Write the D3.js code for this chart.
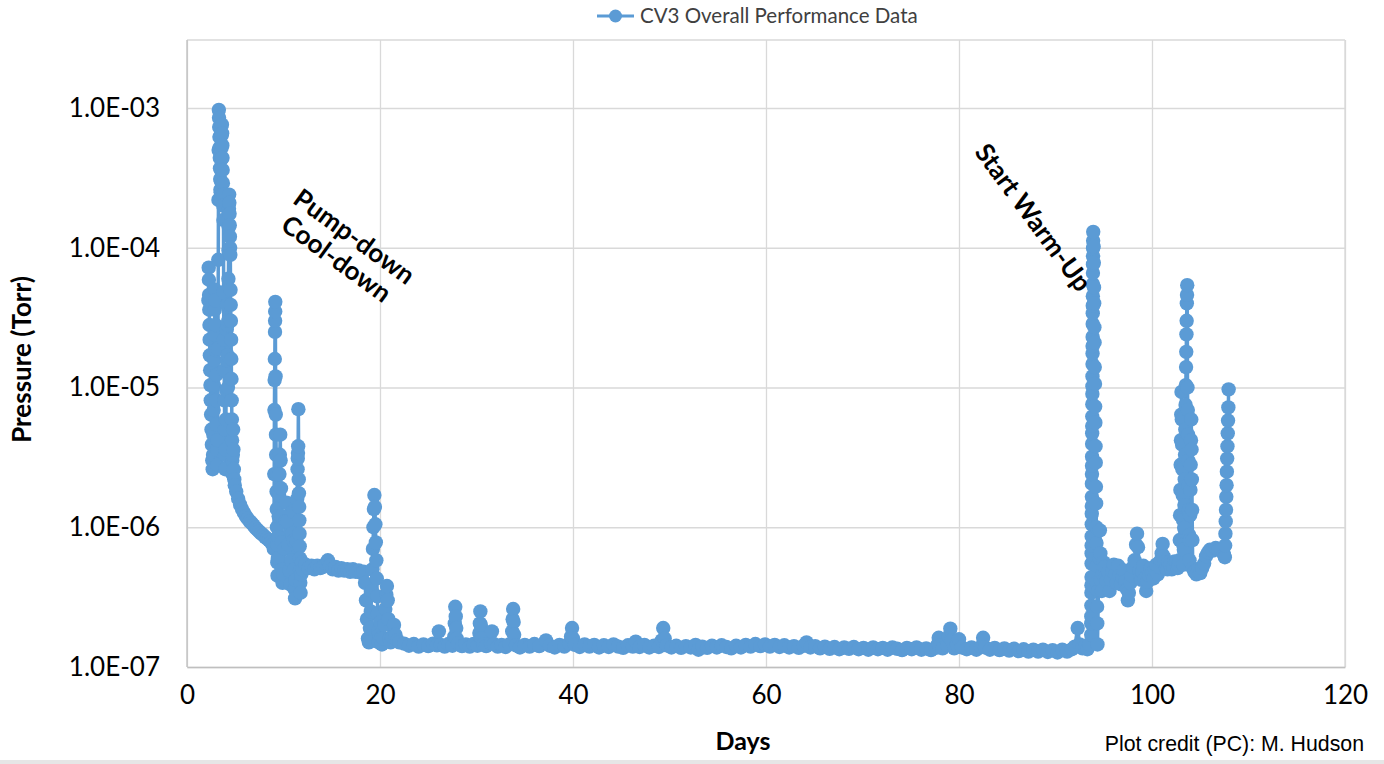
<!DOCTYPE html>
<html>
<head>
<meta charset="utf-8">
<script src="https://cdn.jsdelivr.net/npm/d3@7"></script>
<style>
  body { margin: 0; background: #fff; }
  svg { display: block; font-family: Lato, "Open Sans", sans-serif; }
</style>
</head>
<body>
<svg id="chart" width="1384" height="764"></svg>
<script>
// [day, pressure in Torr]
const pumpDown = [
  [2.22,4.2e-5],[2.25,7.2e-5],[2.27,5.9e-5],[2.29,4.6e-5],[2.31,3.6e-5],[2.33,2.8e-5],[2.35,2.2e-5],
  [2.37,1.7e-5],[2.40,1.33e-5],[2.43,1.04e-5],[2.46,8.1e-6],[2.50,6.4e-6],[2.54,5.0e-6],[2.58,3.9e-6],
  [2.62,3.0e-6],[2.66,2.6e-6],[2.70,3.3e-6],[2.73,4.6e-6],[2.76,6.9e-6],[2.79,1.04e-5],[2.82,1.57e-5],
  [2.85,2.4e-5],[2.88,3.6e-5],[2.91,5.0e-5],[2.94,4.2e-5],[2.97,2.8e-5],[3.00,1.85e-5],[3.03,1.23e-5],
  [3.06,8.1e-6],[3.09,5.4e-6],[3.12,3.6e-6],[3.15,2.8e-6],[3.18,4.2e-6],[3.21,1.9e-5],[3.24,8.2e-5],
  [3.26,2.2e-4],[3.28,5.0e-4],[3.30,9.7e-4],[3.32,8.5e-4],[3.34,7.3e-4],[3.36,6.2e-4],[3.38,5.2e-4],
  [3.40,4.4e-4],[3.42,3.7e-4],[3.44,3.1e-4],[3.46,2.6e-4],[3.48,2.2e-4],[3.50,2.5e-4],[3.52,3.0e-4],
  [3.54,3.6e-4],[3.56,4.3e-4],[3.58,5.2e-4],[3.60,6.4e-4],[3.62,7.6e-4],[3.64,6.6e-4],[3.66,5.4e-4],
  [3.68,4.4e-4],[3.70,3.6e-4],[3.72,2.9e-4],[3.74,2.4e-4],[3.76,2.0e-4],[3.78,1.58e-4],[3.80,4.8e-5],
  [3.82,2.2e-5],[3.85,1.33e-5],[3.88,8.1e-6],[3.91,5.0e-6],[3.94,3.3e-6],[3.97,2.6e-6],[4.00,3.6e-6],
  [4.03,5.9e-6],[4.06,9.6e-6],[4.09,1.57e-5],[4.12,2.6e-5],[4.15,3.9e-5],[4.18,2.8e-5],[4.21,1.7e-5],
  [4.24,1.0e-5],[4.27,3.0e-5],[4.29,6.0e-5],[4.31,9.6e-5],[4.33,1.4e-4],[4.35,1.9e-4],[4.37,2.4e-4],
  [4.39,2.1e-4],[4.41,1.75e-4],[4.43,1.45e-4],[4.45,1.2e-4],[4.47,1.0e-4],[4.49,8.9e-5],[4.51,5.0e-5],
  [4.53,3.9e-5],[4.55,3.0e-5],[4.57,2.2e-5],[4.59,1.6e-5],[4.61,1.15e-5],[4.63,8.1e-6],[4.65,5.9e-6],
  [4.67,4.2e-6],[4.69,3.0e-6],[4.72,2.4e-6],[4.75,3.3e-6],[4.78,5.0e-6],[4.81,3.6e-6],[4.85,2.6e-6],
  [4.90,2.2e-6],[4.95,2.0e-6],[5.1,1.8e-6],[5.3,1.6e-6],[5.5,1.45e-6],[5.7,1.35e-6],[5.9,1.27e-6],
  [6.1,1.2e-6],[6.3,1.15e-6],[6.5,1.1e-6],[6.7,1.07e-6],[6.9,1.03e-6],[7.1,9.9e-7],[7.3,9.6e-7],
  [7.5,9.3e-7],[7.7,9.0e-7],[7.9,8.8e-7],[8.1,8.5e-7],[8.3,8.3e-7],[8.5,8.1e-7],[8.7,7.8e-7],[8.9,7.5e-7]
];

const coolDown = [
  [9.0,7.0e-7],[9.04,2.4e-6],[9.06,6.9e-6],[9.08,1.13e-5],[9.10,1.6e-5],[9.12,2.5e-5],[9.13,3.0e-5],
  [9.14,3.5e-5],[9.15,4.1e-5],[9.18,1.2e-5],[9.20,6.4e-6],[9.22,4.6e-6],[9.24,3.3e-6],[9.26,2.4e-6],
  [9.28,1.8e-6],[9.30,1.35e-6],[9.32,1.0e-6],[9.34,7.5e-7],[9.36,5.6e-7],[9.38,4.5e-7],[9.42,6.0e-7],
  [9.46,8.5e-7],[9.50,1.2e-6],[9.54,1.7e-6],[9.58,2.4e-6],[9.62,3.3e-6],[9.66,4.6e-6],[9.70,3.0e-6],
  [9.74,1.9e-6],[9.78,1.2e-6],[9.82,7.8e-7],[9.86,5.0e-7],[9.90,4.0e-7],[10.0,4.6e-7],[10.1,7.0e-7],
  [10.2,1.1e-6],[10.3,1.5e-6],[10.4,1.1e-6],[10.5,7.5e-7],[10.6,4.9e-7],[10.7,3.9e-7],[10.8,5.8e-7],
  [10.9,9.0e-7],[11.0,1.3e-6],[11.05,8.0e-7],[11.1,5.0e-7],[11.15,3.6e-7],[11.2,3.1e-7],[11.25,4.2e-7],
  [11.35,8.0e-7],[11.42,1.6e-6],[11.46,2.6e-6],[11.48,3.1e-6],[11.50,3.4e-6],[11.52,3.8e-6],[11.54,7.0e-6],
  [11.58,2.2e-6],[11.60,1.75e-6],[11.62,1.4e-6],[11.64,1.12e-6],[11.66,9.0e-7],[11.68,7.3e-7],[11.70,6.0e-7],
  [11.72,4.9e-7],[11.74,4.0e-7],[11.77,3.4e-7],[11.84,4.6e-7],[11.92,5.6e-7],
  [12.0,5.0e-7],[12.3,5.4e-7],[12.6,5.1e-7],[12.9,5.3e-7],[13.2,5.0e-7],[13.5,5.3e-7],[13.8,5.1e-7],
  [14.1,5.2e-7],[14.4,5.5e-7],[14.6,5.8e-7],[14.8,5.3e-7],[15.1,5.0e-7],[15.4,5.2e-7],[15.7,4.9e-7],
  [16.0,5.1e-7],[16.3,4.9e-7],[16.6,5.0e-7],[16.9,4.8e-7],[17.2,5.0e-7],[17.5,4.8e-7],[17.8,4.9e-7],
  [18.1,4.7e-7],[18.3,4.8e-7],
  [18.45,4.0e-7],[18.55,3.0e-7],[18.65,2.2e-7],[18.75,1.6e-7],[18.85,1.5e-7],[18.95,1.9e-7],[19.05,2.5e-7],
  [19.15,3.5e-7],[19.22,5.0e-7],[19.27,7.0e-7],[19.32,1.0e-6],[19.37,1.35e-6],[19.42,1.7e-6],[19.47,1.4e-6],
  [19.52,1.05e-6],[19.57,7.8e-7],[19.62,5.8e-7],[19.67,4.3e-7],[19.72,3.2e-7],[19.77,2.4e-7],[19.82,1.8e-7],
  [19.88,1.5e-7],[19.95,1.7e-7],[20.02,2.1e-7],[20.1,1.6e-7],[20.2,1.45e-7],[20.35,1.6e-7],[20.45,2.0e-7],
  [20.55,2.6e-7],[20.65,3.3e-7],[20.72,3.8e-7],[20.8,3.0e-7],[20.88,2.2e-7],[20.96,1.6e-7],[21.1,1.5e-7],
  [21.3,1.65e-7],[21.45,2.0e-7],[21.6,1.7e-7],[21.8,1.55e-7],[22.0,1.5e-7]
];

const cryoStable = [
  [22.5,1.47e-7],[23.0,1.42e-7],[23.5,1.46e-7],[24.0,1.40e-7],[24.5,1.45e-7],[25.0,1.41e-7],[25.5,1.47e-7],
  [25.9,1.43e-7],[26.1,1.80e-7],[26.3,1.44e-7],[26.7,1.40e-7],[27.1,1.46e-7],[27.5,1.42e-7],[27.7,1.65e-7],
  [27.75,2.05e-7],[27.8,2.7e-7],[27.85,2.3e-7],[27.9,1.9e-7],[27.95,1.6e-7],[28.1,1.47e-7],[28.5,1.41e-7],
  [28.9,1.45e-7],[29.3,1.40e-7],[29.7,1.46e-7],[30.1,1.42e-7],[30.3,1.75e-7],[30.35,2.05e-7],[30.4,2.5e-7],
  [30.45,2.0e-7],[30.5,1.6e-7],[30.7,1.45e-7],[31.0,1.41e-7],[31.5,1.48e-7],[31.6,1.8e-7],[31.8,1.46e-7],
  [32.2,1.40e-7],[32.6,1.44e-7],[33.0,1.39e-7],[33.4,1.45e-7],[33.7,1.8e-7],[33.75,2.2e-7],[33.8,2.6e-7],
  [33.85,2.1e-7],[33.9,1.7e-7],[34.1,1.43e-7],[34.5,1.38e-7],[35.0,1.44e-7],[35.5,1.40e-7],[36.0,1.46e-7],
  [36.5,1.41e-7],[37.2,1.55e-7],[37.6,1.42e-7],[38.1,1.38e-7],[38.6,1.44e-7],[39.1,1.40e-7],[39.6,1.47e-7],
  [39.8,1.65e-7],[39.9,1.9e-7],[40.0,1.6e-7],[40.2,1.44e-7],[40.7,1.39e-7],[41.2,1.45e-7],[41.7,1.40e-7],
  [42.2,1.44e-7],[42.7,1.38e-7],[43.2,1.43e-7],[43.7,1.39e-7],[44.2,1.45e-7],[44.7,1.40e-7],[45.2,1.37e-7],
  [45.7,1.43e-7],[46.2,1.40e-7],[46.5,1.52e-7],[46.9,1.39e-7],[47.4,1.44e-7],[47.9,1.38e-7],[48.4,1.42e-7],
  [48.9,1.39e-7],[49.2,1.55e-7],[49.35,1.9e-7],[49.5,1.6e-7],[49.7,1.43e-7],[50.2,1.38e-7],[50.7,1.42e-7],
  [51.2,1.37e-7],[51.7,1.41e-7],[52.2,1.38e-7],[52.7,1.44e-7],[53.0,1.33e-7],[53.4,1.40e-7],[53.9,1.37e-7],
  [54.4,1.42e-7],[54.9,1.38e-7],[55.4,1.43e-7],[55.9,1.39e-7],[56.4,1.36e-7],[56.9,1.42e-7],[57.4,1.38e-7],
  [57.9,1.44e-7],[58.4,1.40e-7],[58.9,1.46e-7],[59.4,1.41e-7],[59.9,1.45e-7],[60.4,1.40e-7],[60.9,1.44e-7],
  [61.4,1.39e-7],[61.9,1.43e-7],[62.4,1.38e-7],[62.9,1.41e-7],[63.4,1.37e-7],[63.9,1.42e-7],[64.2,1.50e-7],
  [64.6,1.38e-7],[65.1,1.41e-7],[65.6,1.36e-7],[66.1,1.40e-7],[66.6,1.35e-7],[67.1,1.39e-7],[67.6,1.34e-7],
  [68.1,1.38e-7],[68.6,1.35e-7],[69.1,1.39e-7],[69.6,1.34e-7],[70.1,1.37e-7],[70.6,1.33e-7],[71.1,1.38e-7],
  [71.6,1.34e-7],[72.1,1.37e-7],[72.6,1.33e-7],[73.1,1.38e-7],[73.6,1.35e-7],[74.1,1.32e-7],[74.6,1.37e-7],
  [75.1,1.34e-7],[75.6,1.38e-7],[76.1,1.33e-7],[76.6,1.36e-7],[77.1,1.32e-7],[77.6,1.37e-7],[77.8,1.45e-7],
  [77.9,1.62e-7],[78.0,1.42e-7],[78.3,1.36e-7],[78.8,1.44e-7],[78.95,1.65e-7],[79.1,1.88e-7],[79.25,1.55e-7],
  [79.5,1.36e-7],[79.8,1.45e-7],[80.0,1.58e-7],[80.3,1.38e-7],[80.8,1.34e-7],[81.3,1.38e-7],[81.8,1.33e-7],
  [82.3,1.40e-7],[82.5,1.62e-7],[82.7,1.38e-7],[83.2,1.33e-7],[83.7,1.37e-7],[84.2,1.32e-7],[84.7,1.36e-7],
  [85.2,1.31e-7],[85.7,1.35e-7],[86.2,1.30e-7],[86.7,1.34e-7],[87.2,1.29e-7],[87.7,1.33e-7],[88.2,1.29e-7],
  [88.7,1.33e-7],[89.2,1.28e-7],[89.7,1.32e-7],[90.2,1.27e-7],[90.7,1.33e-7],[91.2,1.29e-7],[91.7,1.34e-7],
  [92.0,1.40e-7],[92.3,1.90e-7],[92.5,1.45e-7],[92.8,1.36e-7],[93.1,1.42e-7],[93.3,1.34e-7],[93.5,1.45e-7]
];

const warmUp = [
  [93.700,1.7e-7],[93.705,2.05e-7],[93.710,2.3e-7],[93.715,2.75e-7],[93.720,3.4e-7],[93.725,3.85e-7],
  [93.730,4.4e-7],[93.735,5.5e-7],[93.740,6.5e-7],[93.745,7.4e-7],[93.750,8.6e-7],[93.755,1.05e-6],
  [93.760,1.25e-6],[93.765,1.42e-6],[93.770,1.65e-6],[93.775,2.05e-6],[93.780,2.4e-6],[93.785,2.75e-6],
  [93.790,3.2e-6],[93.795,3.95e-6],[93.800,4.7e-6],[93.805,5.3e-6],[93.810,6.2e-6],[93.815,7.6e-6],
  [93.820,9.0e-6],[93.825,1.02e-5],[93.830,1.2e-5],[93.835,1.47e-5],[93.840,1.75e-5],[93.845,1.98e-5],
  [93.850,2.3e-5],[93.855,2.85e-5],[93.860,3.4e-5],[93.865,3.85e-5],[93.870,4.5e-5],[93.875,5.5e-5],
  [93.880,6.6e-5],[93.885,7.6e-5],[93.890,8.7e-5],[93.895,9.9e-5],[93.900,1.12e-4],[93.910,1.3e-4],
  [93.95,1.02e-4],[93.97,7.8e-5],[93.99,5.2e-5],[94.01,4.0e-5],[94.03,2.7e-5],[94.05,2.1e-5],
  [94.07,1.4e-5],[94.09,1.06e-5],[94.11,7.3e-6],[94.13,5.6e-6],[94.15,3.8e-6],[94.17,2.9e-6],[94.19,1.95e-6],
  [94.21,1.48e-6],[94.23,1.0e-6],[94.25,7.7e-7],[94.27,5.3e-7],[94.29,4.0e-7],[94.31,2.7e-7],[94.33,2.05e-7],
  [94.35,1.45e-7],[94.45,3.5e-7],[94.55,6.0e-7],[94.60,9.5e-7],[94.65,6.5e-7],[94.70,4.2e-7],[94.80,3.5e-7],
  [94.9,4.6e-7],[95.0,5.6e-7],[95.1,5.2e-7],[95.2,4.4e-7],[95.3,4.1e-7],[95.45,4.8e-7],[95.6,3.5e-7],
  [95.75,4.2e-7],[95.9,4.9e-7],[96.05,5.4e-7],[96.2,4.6e-7],[96.35,4.0e-7],[96.5,5.3e-7],[96.65,4.5e-7],
  [96.8,3.9e-7],[96.95,4.4e-7],[97.1,4.9e-7],[97.25,4.1e-7],[97.4,3.6e-7],[97.5,3.0e-7],[97.6,3.4e-7],
  [97.75,4.0e-7],[97.9,4.5e-7],[98.05,5.2e-7],[98.2,5.8e-7],[98.35,7.5e-7],[98.45,9.0e-7],[98.55,7.2e-7],
  [98.7,4.9e-7],[98.8,4.4e-7],[98.9,4.2e-7],[99.0,4.8e-7],[99.1,5.3e-7],[99.25,4.3e-7],[99.4,3.5e-7],
  [99.55,4.1e-7],[99.7,4.5e-7],[99.85,5.1e-7],[100.0,4.7e-7],[100.15,4.3e-7],[100.3,5.0e-7],[100.45,5.4e-7],
  [100.6,4.6e-7],[100.75,5.2e-7],[100.9,5.8e-7],[101.0,6.5e-7],[101.1,7.6e-7],[101.2,6.2e-7],[101.3,5.6e-7],
  [101.45,5.1e-7],[101.6,5.0e-7],[101.75,5.6e-7],[101.9,5.4e-7],[102.05,5.0e-7],[102.2,5.2e-7],[102.35,5.7e-7],
  [102.5,5.6e-7],[102.65,5.1e-7],[102.75,5.4e-7],
  [102.85,5.8e-7],[102.88,8.1e-7],[102.91,1.22e-6],[102.94,1.85e-6],[102.97,2.8e-6],[103.00,4.2e-6],
  [103.03,6.4e-6],[103.06,9.3e-6],[103.09,5.9e-6],[103.12,3.9e-6],[103.15,2.6e-6],[103.18,1.7e-6],
  [103.21,1.13e-6],[103.24,7.5e-7],[103.27,5.4e-7],[103.30,6.9e-7],[103.33,9.9e-7],[103.36,1.44e-6],
  [103.39,2.2e-6],[103.42,3.3e-6],[103.45,5.0e-6],[103.48,7.5e-6],[103.51,1.04e-5],[103.53,1.4e-5],
  [103.55,1.8e-5],[103.57,2.4e-5],[103.59,3.0e-5],[103.61,4.0e-5],[103.63,4.6e-5],[103.65,5.4e-5],
  [103.68,1.0e-5],[103.71,6.9e-6],[103.74,4.6e-6],[103.77,3.0e-6],[103.80,2.0e-6],[103.83,1.33e-6],
  [103.86,8.8e-7],[103.89,5.8e-7],[103.92,8.1e-7],[103.95,1.22e-6],[103.98,1.85e-6],[104.01,2.8e-6],
  [104.04,4.2e-6],[104.07,5.9e-6],[104.10,3.6e-6],[104.13,2.2e-6],[104.16,1.33e-6],[104.19,8.1e-7],
  [104.22,5.1e-7],[104.4,4.8e-7],[104.6,4.6e-7],[104.8,5.0e-7],[105.0,4.7e-7],[105.2,5.1e-7],[105.4,5.5e-7],
  [105.6,6.2e-7],[105.8,6.6e-7],[106.0,6.9e-7],[106.3,6.8e-7],[106.6,7.1e-7],[106.9,6.9e-7],[107.2,7.0e-7],
  [107.45,6.4e-7],[107.55,6.1e-7],[107.58,7.4e-7],[107.61,9.0e-7],[107.64,1.1e-6],[107.67,1.33e-6],
  [107.70,1.65e-6],[107.73,2.0e-6],[107.76,2.5e-6],[107.79,3.1e-6],[107.82,3.8e-6],[107.85,4.7e-6],
  [107.88,5.8e-6],[107.91,7.2e-6],[107.94,9.7e-6]
];

const xTicks = [0, 20, 40, 60, 80, 100, 120];
const yTicks = [1e-7, 1e-6, 1e-5, 1e-4, 1e-3];
const yTickLabels = ['1.0E-07', '1.0E-06', '1.0E-05', '1.0E-04', '1.0E-03'];

const seriesName = 'CV3 Overall Performance Data';
const blue = '#5b9bd5';

const plot = {left: 187, right: 1345, top: 40, bottom: 667};

const svg = d3.select('#chart');

const x = d3.scaleLinear().domain([0, 120]).range([plot.left, plot.right]);
const y = d3.scaleLog().domain([1e-7, 1e-3]).range([plot.bottom, 108]);

// grid
svg.append('g')
  .attr('transform', 'translate(0,' + plot.bottom + ')')
  .call(d3.axisBottom(x).tickValues(xTicks).tickSize(-(plot.bottom - plot.top)).tickFormat(''))
  .call(g => g.select('.domain').remove())
  .call(g => g.selectAll('line').attr('stroke', '#d9d9d9').attr('stroke-width', 1.3));

svg.append('g')
  .attr('transform', 'translate(' + plot.left + ',0)')
  .call(d3.axisLeft(y).tickValues(yTicks).tickSize(-(plot.right - plot.left)).tickFormat(''))
  .call(g => g.select('.domain').remove())
  .call(g => g.selectAll('line').attr('stroke', '#d9d9d9').attr('stroke-width', 1.3));

svg.append('line')
  .attr('x1', plot.left).attr('x2', plot.right)
  .attr('y1', plot.top).attr('y2', plot.top)
  .attr('stroke', '#d9d9d9').attr('stroke-width', 1.3);
svg.append('line')
  .attr('x1', plot.right).attr('x2', plot.right)
  .attr('y1', plot.top).attr('y2', plot.bottom)
  .attr('stroke', '#d9d9d9').attr('stroke-width', 1.3);

// axes
svg.append('g')
  .attr('transform', 'translate(0,' + plot.bottom + ')')
  .call(d3.axisBottom(x).tickValues(xTicks).tickSize(0).tickPadding(19))
  .call(g => g.select('.domain').attr('stroke', '#bfbfbf').attr('stroke-width', 1.3))
  .call(g => g.selectAll('text').attr('font-family', 'Lato').attr('font-size', 26).attr('fill', '#000'));

svg.append('g')
  .attr('transform', 'translate(' + plot.left + ',0)')
  .call(d3.axisLeft(y).tickValues(yTicks).tickFormat((d, i) => yTickLabels[i]).tickSize(0).tickPadding(27))
  .call(g => g.select('.domain').attr('stroke', '#bfbfbf').attr('stroke-width', 1.3)
    .attr('d', 'M0,' + plot.top + 'V' + plot.bottom))
  .call(g => g.selectAll('text').attr('font-family', 'Lato').attr('font-size', 26).attr('fill', '#000'));

// axis titles
svg.append('text')
  .attr('transform', 'translate(31,' + ((plot.top + plot.bottom) / 2 + 6) + ') rotate(-90)')
  .attr('text-anchor', 'middle')
  .attr('font-size', 26).attr('font-weight', 700)
  .text('Pressure (Torr)');

svg.append('text')
  .attr('x', 743).attr('y', 750)
  .attr('text-anchor', 'middle')
  .attr('font-size', 25).attr('font-weight', 700)
  .text('Days');

// series
const data = pumpDown.concat(coolDown, cryoStable, warmUp);

const line = d3.line().x(d => x(d[0])).y(d => y(d[1]));

svg.append('path')
  .datum(data)
  .attr('d', line)
  .attr('fill', 'none')
  .attr('stroke', blue)
  .attr('stroke-width', 3.5)
  .attr('stroke-linejoin', 'round');

svg.append('g')
  .selectAll('circle')
  .data(data)
  .join('circle')
  .attr('cx', d => x(d[0]))
  .attr('cy', d => y(d[1]))
  .attr('r', 7.2)
  .attr('fill', blue);

// annotations
const notes = [
  {text: 'Pump-down', x: 349, y: 244, angle: 36},
  {text: 'Cool-down', x: 331, y: 266, angle: 36},
  {text: 'Start Warm-Up', x: 1026, y: 223, angle: 53.5}
];
svg.append('g')
  .selectAll('text')
  .data(notes)
  .join('text')
  .attr('transform', d => 'translate(' + d.x + ',' + d.y + ') rotate(' + d.angle + ')')
  .attr('text-anchor', 'middle')
  .attr('font-size', 26).attr('font-weight', 700)
  .text(d => d.text);

// legend
const legend = svg.append('g');
legend.append('line')
  .attr('x1', 597).attr('x2', 634).attr('y1', 16).attr('y2', 16)
  .attr('stroke', blue).attr('stroke-width', 3);
legend.append('circle')
  .attr('cx', 615.5).attr('cy', 16).attr('r', 6.5).attr('fill', blue);
legend.append('text')
  .attr('x', 640).attr('y', 22.5)
  .attr('font-size', 20.5).attr('fill', '#404040')
  .text(seriesName);

// credit + bottom strip
svg.append('text')
  .attr('x', 1364).attr('y', 751)
  .attr('text-anchor', 'end')
  .attr('font-family', 'Liberation Sans, Arial, sans-serif')
  .attr('font-size', 21.3).attr('fill', '#000')
  .text('Plot credit (PC): M. Hudson');

svg.append('rect')
  .attr('x', 0).attr('y', 760).attr('width', 1384).attr('height', 4)
  .attr('fill', '#e6e6e6');
</script>
</body>
</html>
